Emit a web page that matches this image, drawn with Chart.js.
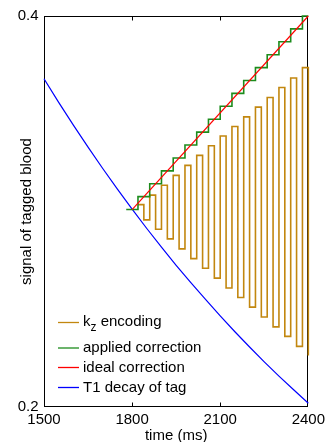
<!DOCTYPE html>
<html>
<head>
<meta charset="utf-8">
<script src="https://cdn.jsdelivr.net/npm/chart.js@4/dist/chart.umd.min.js"></script>
<style>
  html, body { margin: 0; padding: 0; background: #fff; }
  #c { display: block; }
</style>
</head>
<body>
<canvas id="c" width="329" height="442"></canvas>
<script>
// ---- data ----
const xTicks = [1500, 1800, 2100, 2400];
const yTicks = [0.2, 0.4];

// T1 decay of tag (blue)
const decayTimes  = [1500, 1550, 1600, 1650, 1700, 1750, 1800, 1850, 1900, 1950, 2000, 2050, 2100, 2150, 2200, 2250, 2300, 2350, 2400];
const decayValues = [0.3679, 0.3558, 0.3442, 0.3329, 0.3220, 0.3114, 0.3012, 0.2913, 0.2818, 0.2725, 0.2636, 0.2550, 0.2466, 0.2385, 0.2307, 0.2231, 0.2158, 0.2088, 0.2019];

// ideal correction (red)
const idealTimes  = [1800, 2400];
const idealValues = [0.301, 0.400];

// applied correction (green staircase)
const appliedTimes  = [1780, 1820, 1860, 1900, 1940, 1980, 2020, 2060, 2100, 2140, 2180, 2220, 2260, 2300, 2340, 2380, 2400];
const appliedValues = [0.301, 0.3076, 0.3142, 0.3208, 0.3274, 0.3340, 0.3406, 0.3472, 0.3538, 0.3604, 0.3670, 0.3736, 0.3802, 0.3868, 0.3934, 0.4000, 0.4000];

// kz encoding (orange square wave): switching times, high and low levels
const kzTimes = [1820, 1840, 1860, 1880, 1900, 1920, 1940, 1960, 1980, 2000, 2020, 2040, 2060, 2080, 2100,
                 2120, 2140, 2160, 2180, 2200, 2220, 2240, 2260, 2280, 2300, 2320, 2340, 2360, 2380, 2400];
const kzHigh = [0.3035, 0.3084, 0.3134, 0.3185, 0.3236, 0.3287, 0.3336, 0.3386, 0.3435, 0.3484, 0.3534, 0.3583, 0.3634, 0.3683, 0.3736];
const kzLow  = [0.2957, 0.2909, 0.2860, 0.2809, 0.2759, 0.2710, 0.2659, 0.2609, 0.2560, 0.2511, 0.2460, 0.2410, 0.2361, 0.2310, 0.2264];

// ---- build point lists ----
const pts = (xs, ys) => xs.map((x, i) => ({x: x, y: ys[i]}));
const kzPoints = kzTimes.map((t, i) => ({x: t, y: (i % 2 === 0) ? kzHigh[i / 2] : kzLow[(i - 1) / 2]}));

const FONT = 'Liberation Sans, Arial, Helvetica, sans-serif';
Chart.defaults.font.family = FONT;
Chart.defaults.color = '#000';

const frameAndTicks = {
  id: 'frameAndTicks',
  beforeDatasetsDraw(chart) {
    const {ctx, chartArea: a, scales} = chart;
    const L = Math.round(a.left) + 0.5, R = Math.round(a.right) - 0.5;
    const T = Math.round(a.top) + 0.5, B = Math.round(a.bottom) - 0.5;
    ctx.save();
    ctx.strokeStyle = '#000';
    ctx.lineWidth = 1;
    ctx.strokeRect(L, T, R - L, B - T);
    ctx.beginPath();
    scales.x.ticks.forEach(t => {
      const px = Math.round(scales.x.getPixelForValue(t.value)) + 0.5;
      if (px > L + 1 && px < R - 1) {
        ctx.moveTo(px, B); ctx.lineTo(px, B - 4);
        ctx.moveTo(px, T); ctx.lineTo(px, T + 4);
      }
    });
    ctx.stroke();
    ctx.restore();
  }
};

const innerLegend = {
  id: 'innerLegend',
  afterDatasetsDraw(chart) {
    const {ctx} = chart;
    const rows = [322.5, 348, 367.5, 387.5];
    const x0 = 58, x1 = 79, tx = 83;
    ctx.save();
    chart.data.datasets.forEach((ds, i) => {
      const y = rows[i];
      ctx.strokeStyle = ds.borderColor;
      ctx.lineWidth = 1.3;
      ctx.beginPath();
      ctx.moveTo(x0, y); ctx.lineTo(x1, y);
      ctx.stroke();
      ctx.fillStyle = '#000';
      ctx.textBaseline = 'middle';
      ctx.textAlign = 'left';
      ctx.font = '15px ' + FONT;
      if (ds.labelMain) {
        ctx.fillText(ds.labelMain, tx, y - 1);
        const w = ctx.measureText(ds.labelMain).width;
        ctx.font = '12px ' + FONT;
        ctx.fillText(ds.labelSub, tx + w, y + 5);
        const w2 = ctx.measureText(ds.labelSub).width;
        ctx.font = '15px ' + FONT;
        ctx.fillText(ds.labelRest, tx + w + w2, y - 1);
      } else {
        ctx.fillText(ds.label, tx, y);
      }
    });
    ctx.restore();
  }
};

new Chart(document.getElementById('c'), {
  type: 'line',
  data: {
    datasets: [
      { label: 'kz encoding', labelMain: 'k', labelSub: 'z', labelRest: ' encoding',
        data: kzPoints, borderColor: '#C2870F', borderWidth: 1.6, stepped: 'before', order: 2, clip: 3 },
      { label: 'applied correction', data: pts(appliedTimes, appliedValues),
        borderColor: '#1C8C1C', borderWidth: 1.6, stepped: 'before', order: 1, clip: 3 },
      { label: 'ideal correction', data: pts(idealTimes, idealValues),
        borderColor: '#FF0000', borderWidth: 1.2, order: 0, clip: 3 },
      { label: 'T1 decay of tag', data: pts(decayTimes, decayValues),
        borderColor: '#0000FF', borderWidth: 1.2, order: 3, clip: 3 }
    ]
  },
  options: {
    responsive: false,
    animation: false,
    events: [],
    layout: { padding: { top: 16, right: 17, bottom: 0, left: 0 } },
    elements: { point: { radius: 0 }, line: { tension: 0, fill: false } },
    plugins: { legend: { display: false }, tooltip: { enabled: false } },
    scales: {
      x: {
        type: 'linear', min: 1500, max: 2400,
        afterBuildTicks: s => { s.ticks = xTicks.map(v => ({value: v})); },
        afterFit: s => { s.height = 35; },
        ticks: { color: '#000', font: { size: 15 }, padding: 4, maxRotation: 0, autoSkip: false,
                 callback: v => String(v) },
        grid: { display: false, drawTicks: false },
        border: { display: false },
        title: { display: true, text: 'time (ms)', color: '#000', font: { size: 15 },
                 padding: { top: 0, bottom: -2.5 } }
      },
      y: {
        type: 'linear', min: 0.2, max: 0.4,
        afterBuildTicks: s => { s.ticks = yTicks.map(v => ({value: v})); },
        afterFit: s => { s.width = 44; },
        ticks: { color: '#000', font: { size: 15 }, padding: 5.5, autoSkip: false,
                 callback: v => v.toFixed(1) },
        grid: { display: false, drawTicks: false },
        border: { display: false },
        title: { display: true, text: 'signal of tagged blood', color: '#000', font: { size: 15 },
                 padding: { top: 18, bottom: 0 } }
      }
    }
  },
  plugins: [frameAndTicks, innerLegend]
});
</script>
</body>
</html>
